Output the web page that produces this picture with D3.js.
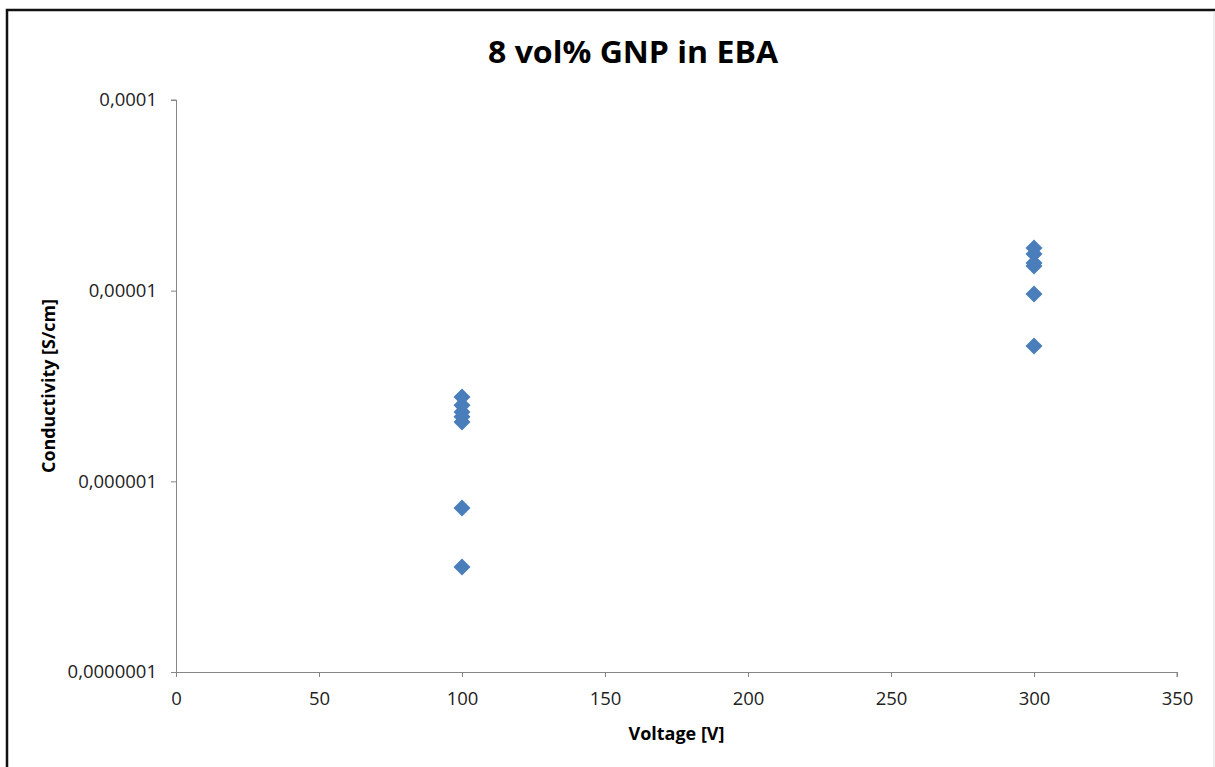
<!DOCTYPE html>
<html lang="en">
<head>
    <meta charset="UTF-8">
    <title>8 vol% GNP in EBA</title>
    <style>
        body { margin: 0; background: #fff; }
        svg { display: block; }
        .tick text { font-family: "Open Sans", sans-serif; font-size: 18.5px; fill: #222; }
    </style>
</head>
<body>
<div id="chart-area"></div>
<script src="https://d3js.org/d3.v7.min.js"></script>
<script>
    // measured data
    const voltages100 = [100, 100, 100, 100, 100, 100, 100];
    const conductivity100 = [2.77e-6, 2.51e-6, 2.31e-6, 2.18e-6, 2.05e-6, 7.25e-7, 3.55e-7];
    const voltages300 = [300, 300, 300, 300, 300, 300];
    const conductivity300 = [1.675e-5, 1.557e-5, 1.397e-5, 1.347e-5, 9.6e-6, 5.13e-6];
    const xTicks = [0, 50, 100, 150, 200, 250, 300, 350];
    const yTicks = [1e-7, 1e-6, 1e-5, 1e-4];
    const yTickLabels = ["0,0000001", "0,000001", "0,00001", "0,0001"];

    const width = 1215;
    const height = 767;
    const margin = {top: 100, right: 38, bottom: 95, left: 176};

    const svg = d3.select("#chart-area")
        .append("svg")
            .attr("width", width)
            .attr("height", height);

    // outer frame of the chart
    svg.append("path")
        .attr("d", `M7,${height} V10 H${width}`)
        .attr("fill", "none")
        .attr("stroke", "#111")
        .attr("stroke-width", 2.5);
    svg.append("line")
        .attr("x1", width - 1).attr("x2", width - 1)
        .attr("y1", 11).attr("y2", height)
        .attr("stroke", "#ddd");

    const x = d3.scaleLinear()
        .domain([0, 350])
        .range([margin.left, width - margin.right]);

    const y = d3.scaleLog()
        .domain([1e-7, 1e-4])
        .range([height - margin.bottom, margin.top]);

    // axes
    const xAxis = svg.append("g")
        .attr("transform", `translate(0, ${height - margin.bottom})`)
        .call(d3.axisBottom(x).tickValues(xTicks).tickSize(5).tickPadding(15).tickSizeOuter(0));

    const yAxis = svg.append("g")
        .attr("transform", `translate(${margin.left}, 0)`)
        .call(d3.axisLeft(y).tickValues(yTicks).tickSize(5).tickPadding(14).tickSizeOuter(0)
            .tickFormat((d, i) => yTickLabels[i]));

    svg.selectAll(".domain, .tick line").attr("stroke", "#868686");
    xAxis.selectAll(".domain").attr("d", `M${x(0)},0.5H${x(350)}V5`);
    yAxis.selectAll(".domain").attr("d", `M-5,${y(1e-4)}H0.5V${y(1e-7)}`);

    // markers
    const points = voltages100.map((v, i) => ({v: v, c: conductivity100[i]}))
        .concat(voltages300.map((v, i) => ({v: v, c: conductivity300[i]})));

    const diamond = d3.symbol().type(d3.symbolSquare).size(145);

    svg.append("g")
        .selectAll("path")
        .data(points)
        .enter().append("path")
            .attr("d", diamond)
            .attr("transform", d => `translate(${x(d.v)}, ${y(d.c)}) rotate(45)`)
            .attr("fill", "#4a7ebb");

    // titles
    svg.append("text")
        .attr("x", 633)
        .attr("y", 63)
        .attr("text-anchor", "middle")
        .attr("font-family", "Open Sans, sans-serif")
        .attr("font-weight", "bold")
        .attr("font-size", 31)
        .attr("textLength", 290)
        .attr("lengthAdjust", "spacingAndGlyphs")
        .text("8 vol% GNP in EBA");

    svg.append("text")
        .attr("x", (x(0) + x(350)) / 2)
        .attr("y", 740)
        .attr("text-anchor", "middle")
        .attr("font-family", "Open Sans, sans-serif")
        .attr("font-weight", "bold")
        .attr("font-size", 18)
        .attr("textLength", 96)
        .attr("lengthAdjust", "spacingAndGlyphs")
        .text("Voltage [V]");

    svg.append("text")
        .attr("transform", `translate(55, ${(y(1e-4) + y(1e-7)) / 2}) rotate(-90)`)
        .attr("text-anchor", "middle")
        .attr("font-family", "Open Sans, sans-serif")
        .attr("font-weight", "bold")
        .attr("font-size", 18)
        .attr("textLength", 174)
        .attr("lengthAdjust", "spacingAndGlyphs")
        .text("Conductivity [S/cm]");
</script>
</body>
</html>
